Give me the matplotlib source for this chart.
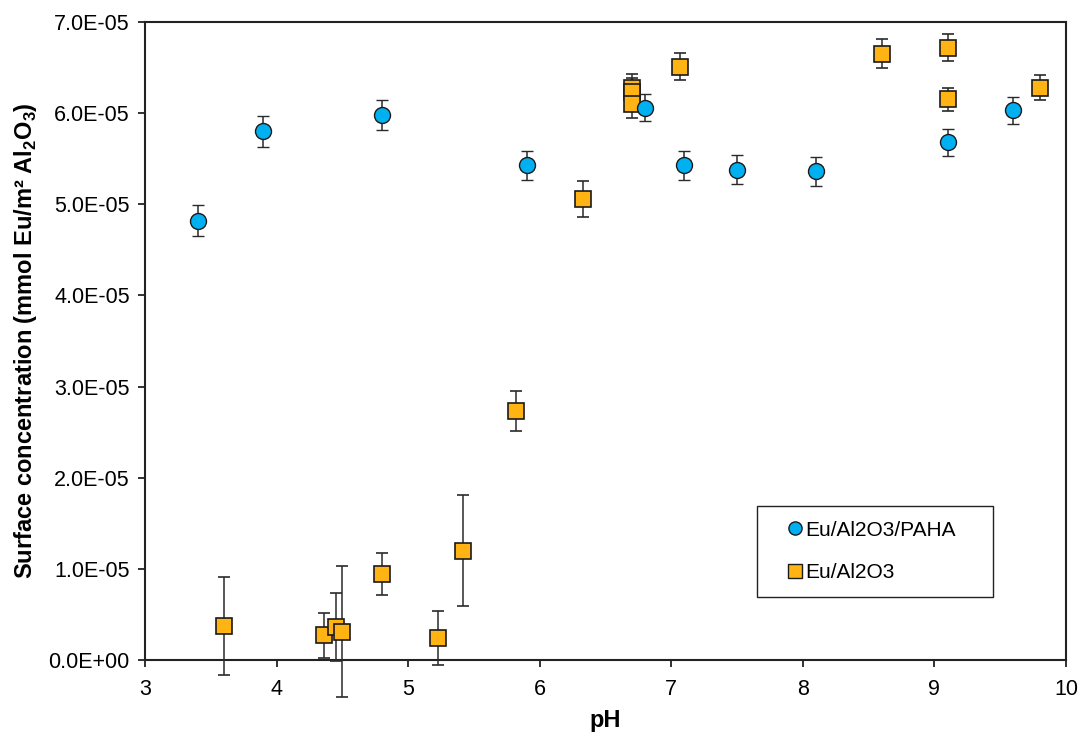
import matplotlib
matplotlib.use("Agg")
import matplotlib.pyplot as plt
from matplotlib.lines import Line2D
from matplotlib.patches import Rectangle

plt.rcParams['font.family'] = ['Liberation Sans', 'DejaVu Sans']
plt.rcParams['mathtext.fontset'] = 'custom'
plt.rcParams['mathtext.rm'] = 'Liberation Sans'
plt.rcParams['mathtext.bf'] = 'Liberation Sans:bold'

# Eu/Al2O3/PAHA (circles)
ph_paha = [3.4, 3.9, 4.8, 5.9, 6.8, 7.1, 7.5, 8.1, 9.1, 9.6]
conc_paha = [4.82e-5, 5.80e-5, 5.98e-5, 5.43e-5, 6.06e-5, 5.43e-5, 5.38e-5, 5.36e-5, 5.68e-5, 6.03e-5]
err_paha = [0.17e-5, 0.17e-5, 0.16e-5, 0.16e-5, 0.15e-5, 0.16e-5, 0.16e-5, 0.16e-5, 0.15e-5, 0.15e-5]

# Eu/Al2O3 (squares)
ph_al = [3.6, 4.36, 4.45, 4.5, 4.8, 5.23, 5.42, 5.82, 6.33, 6.7, 6.7, 6.7, 7.07, 8.6, 9.1, 9.1, 9.8]
conc_al = [0.37e-5, 0.27e-5, 0.36e-5, 0.31e-5, 0.94e-5, 0.24e-5, 1.20e-5, 2.73e-5, 5.06e-5,
           6.28e-5, 6.23e-5, 6.10e-5, 6.51e-5, 6.65e-5, 6.72e-5, 6.15e-5, 6.28e-5]
err_al = [0.54e-5, 0.25e-5, 0.37e-5, 0.72e-5, 0.23e-5, 0.30e-5, 0.61e-5, 0.22e-5, 0.20e-5,
          0.15e-5, 0.16e-5, 0.15e-5, 0.15e-5, 0.16e-5, 0.15e-5, 0.13e-5, 0.14e-5]

yticks = [0, 1e-5, 2e-5, 3e-5, 4e-5, 5e-5, 6e-5, 7e-5]
ytick_labels = ['0.0E+00', '1.0E-05', '2.0E-05', '3.0E-05', '4.0E-05', '5.0E-05', '6.0E-05', '7.0E-05']
xticks = [3, 4, 5, 6, 7, 8, 9, 10]

fig = plt.figure(figsize=(10.78, 7.34), dpi=100)
ax = fig.add_axes([145 / 1078, 74 / 734, 921 / 1078, 638 / 734])

ax.errorbar(ph_al, conc_al, yerr=err_al, fmt='s', ms=11, mfc='#FFB414', mec='#1a1a1a',
            mew=1.2, ecolor='#2a2a2a', elinewidth=1.1, capsize=4, capthick=1.6,
            label='Eu/Al2O3', zorder=3, clip_on=False)
ax.errorbar(ph_paha, conc_paha, yerr=err_paha, fmt='o', ms=11.5, mfc='#00B0F0', mec='#1a1a1a',
            mew=1.0, ecolor='#2a2a2a', elinewidth=1.1, capsize=4, capthick=1.6,
            label='Eu/Al2O3/PAHA', zorder=4, clip_on=False)

ax.set_xlim(3, 10)
ax.set_ylim(0, 7e-5)
ax.set_xticks(xticks)
ax.set_xticklabels([str(x) for x in xticks])
ax.set_yticks(yticks)
ax.set_yticklabels(ytick_labels)
ax.tick_params(direction='out', length=5, width=1.3, labelsize=15.5, color='#222222')
ax.tick_params(axis='x', pad=9)
ax.tick_params(axis='y', pad=6)
for s in ax.spines.values():
    s.set_linewidth(1.5)
    s.set_color('#222222')

ax.set_xlabel('pH', fontsize=17, fontweight='bold', labelpad=6)
ax.set_ylabel(r'Surface concentration (mmol Eu/m² Al$_\mathbf{2}$O$_\mathbf{3}$)',
              fontsize=17, fontweight='bold', labelpad=7)

# legend box
fig.patches.append(Rectangle((757 / 1078, 1 - 597 / 734), (993 - 757) / 1078, (597 - 506) / 734,
                             transform=fig.transFigure, facecolor='white', edgecolor='#222222',
                             linewidth=1.0, zorder=5))
h_paha = Line2D([], [], marker='o', ls='none', ms=9.5, mfc='#00B0F0', mec='#1a1a1a', mew=1.0)
h_al = Line2D([], [], marker='s', ls='none', ms=9.5, mfc='#FFB414', mec='#1a1a1a', mew=1.0)
leg = fig.legend([h_paha, h_al], ['Eu/Al2O3/PAHA', 'Eu/Al2O3'], loc='center left',
                 bbox_to_anchor=(789 / 1078, 1 - (506 + 597) / 2 / 734),
                 fontsize=15, frameon=False,
                 handlelength=0.6, handletextpad=0.2, labelspacing=1.15, borderpad=0.0,
                 borderaxespad=0)
leg.set_zorder(6)

fig.savefig('out.png', dpi=100)
